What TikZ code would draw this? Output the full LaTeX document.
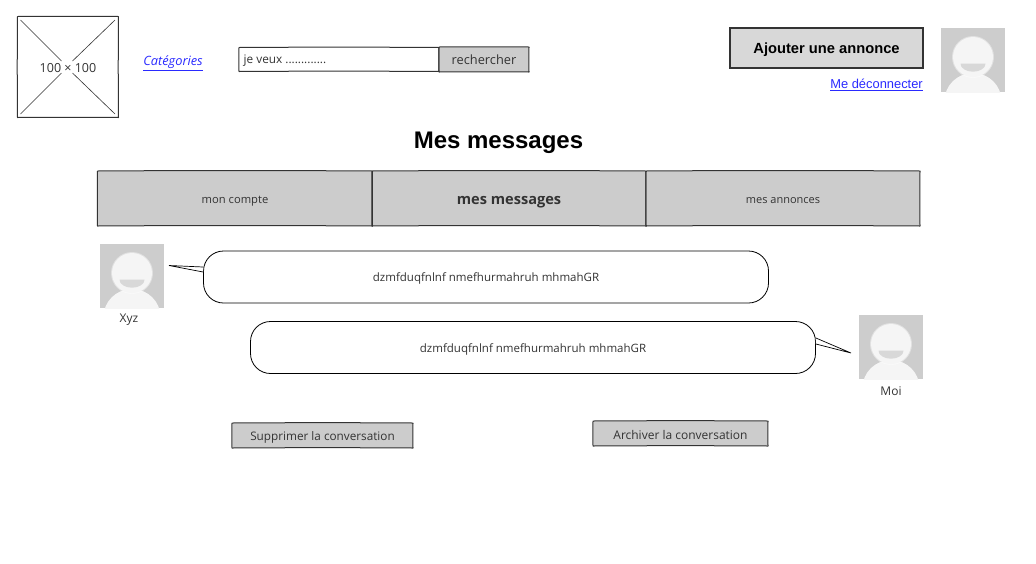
\documentclass[tikz,border=0pt]{standalone}
\usepackage{fontspec}
\setmainfont{Open Sans}
\newfontfamily\arial{Liberation Sans}
\definecolor{boxgray}{HTML}{CCCCCC}
\definecolor{btngray}{HTML}{D8D8D8}
\definecolor{inkdark}{HTML}{333333}
\definecolor{avbg}{HTML}{CDCDCD}
\definecolor{avfg}{HTML}{F5F5F5}
\definecolor{linkblue}{HTML}{2A2AFF}
\tikzset{
  sketchbox/.style={inner sep=0pt,outer sep=0pt,anchor=north west,align=center,text=inkdark,text depth=0pt,text height=9pt},
  graybox/.style={sketchbox,fill=boxgray},
  sketchline/.style={draw=inkdark,line width=1pt,line cap=round,line join=round},
  plainlabel/.style={inner sep=0pt,text=inkdark},
  msgbubble/.style={draw=black,line width=0.8pt,rounded corners=20pt,fill=white,minimum width=565pt,minimum height=52pt,inner sep=0pt,font=\fontsize{11.5}{14}\selectfont,text=inkdark,text depth=0pt},
  tailline/.style={draw=black,line width=0.7pt,fill=white,line join=miter},
  avatarpic/.pic={
    \fill[avbg] (0,0) rectangle (64,64);
    \begin{scope}
      \clip (0,0) rectangle (64,64);
      \fill[avfg] (32,73) ellipse [x radius=28.5,y radius=28];
    \end{scope}
    \fill[white,opacity=.4] (32,29) circle (21);
    \fill[avfg] (32,29) circle (20);
    \fill[btngray] (19.5,35.7) -- (44.5,35.7) arc [start angle=0,end angle=180,x radius=12.5,y radius=8] -- cycle;
  }
}
\begin{document}
\begin{tikzpicture}[x=1pt,y=-1pt]
\useasboundingbox (0,0) rectangle (1036,563);
% logo placeholder
\node[sketchbox,minimum width=101pt,minimum height=101pt] (logo) at (17.5,16.5) {};
\coordinate (lA) at (20.5,20); \coordinate (lB) at (115,20);
\coordinate (lC) at (20.5,114); \coordinate (lD) at (115,114);
\coordinate (lAi) at (61.5,61); \coordinate (lBi) at (72.5,61);
\coordinate (lCi) at (61.5,73); \coordinate (lDi) at (72.5,73);
\draw[line width=0.6pt,draw=inkdark] (lA) -- (lAi) (lB) -- (lBi) (lC) -- (lCi) (lD) -- (lDi);
\node[plainlabel,font=\fontsize{12.5}{15}\selectfont] (logotxt) at (68,68) {100 × 100};
\node[inner sep=0pt,text=linkblue,font=\fontsize{12.8}{15}\itshape\selectfont] (cat) at (173,63) {\underline{Catégories}};
% search
\node[sketchbox,minimum width=200pt,minimum height=24pt,fill=white] (search) at (239,47.5) {};
\node[plainlabel,anchor=west,font=\fontsize{11.8}{14}\selectfont] (searchtxt) at (243.5,60.5) {je veux .............};
\node[graybox,minimum width=90pt,minimum height=25pt,font=\fontsize{12.8}{15}\selectfont,text height=10pt] (go) at (439,47) {rechercher};
% right header
\node[draw=inkdark,line width=1.5pt,fill=btngray,minimum width=193pt,minimum height=40pt,inner sep=0pt,font=\arial\bfseries\fontsize{14.7}{17}\selectfont,text=black,text depth=0pt,text height=10pt] (add) at (826.5,48) {Ajouter une annonce};
\node[inner sep=0pt,anchor=east,text=linkblue,font=\arial\fontsize{12.9}{15}\selectfont] (logout) at (923,84.5) {\underline{Me déconnecter}};
\pic at (941,28) {avatarpic};
% title
\node[inner sep=0pt,font=\arial\bfseries\fontsize{24}{28}\selectfont,text=black] (title) at (498.5,143) {Mes messages};
% tabs
\node[graybox,minimum width=275pt,minimum height=55pt,font=\fontsize{11.2}{14}\selectfont,text height=9.5pt] (tab1) at (97.5,171) {mon compte};
\node[graybox,minimum width=274pt,minimum height=55pt,font=\bfseries\fontsize{14.6}{17}\selectfont,text height=12.5pt] (tab2) at (372,171) {mes messages};
\node[graybox,minimum width=274pt,minimum height=55pt,font=\fontsize{11}{14}\selectfont,text height=10.5pt] (tab3) at (646,171) {mes annonces};
% message 1
\pic at (100,244) {avatarpic};
\node[plainlabel,font=\fontsize{12}{14}\selectfont] (xyz) at (129,320) {Xyz};
\coordinate (tail1) at (169,265.5);
\node[msgbubble,text height=8pt] (msg1) at (486,277) {dzmfduqfnlnf nmefhurmahruh mhmahGR};
\draw[tailline] (msg1.west |- 0,267) -- (tail1) -- (msg1.west |- 0,272);
% message 2
\pic at (859,315) {avatarpic};
\node[plainlabel,font=\fontsize{12}{14}\selectfont] (moi) at (891,391) {Moi};
\coordinate (tail2) at (851,353);
\node[msgbubble,text height=9pt] (msg2) at (533,347.5) {dzmfduqfnlnf nmefhurmahruh mhmahGR};
\draw[tailline] (msg2.east |- 0,338) -- (tail2) -- (msg2.east |- 0,344);
% buttons
\node[graybox,minimum width=181pt,minimum height=25pt,font=\fontsize{11.75}{14}\selectfont] (del) at (232,423) {Supprimer la conversation};
\node[graybox,minimum width=175pt,minimum height=25pt,font=\fontsize{12}{14}\selectfont,text height=11.5pt] (arch) at (593,421) {Archiver la conversation};
% hand-drawn outlines
\foreach \boxname in {logo,search,go,tab1,tab2,tab3,del,arch}
  \draw[sketchline]
    (\boxname.north west) to[bend left=0.35] (\boxname.north east)
    to[bend right=0.5] (\boxname.south east)
    to[bend right=0.35] (\boxname.south west)
    to[bend left=0.5] (\boxname.north west);
\end{tikzpicture}
\end{document}
